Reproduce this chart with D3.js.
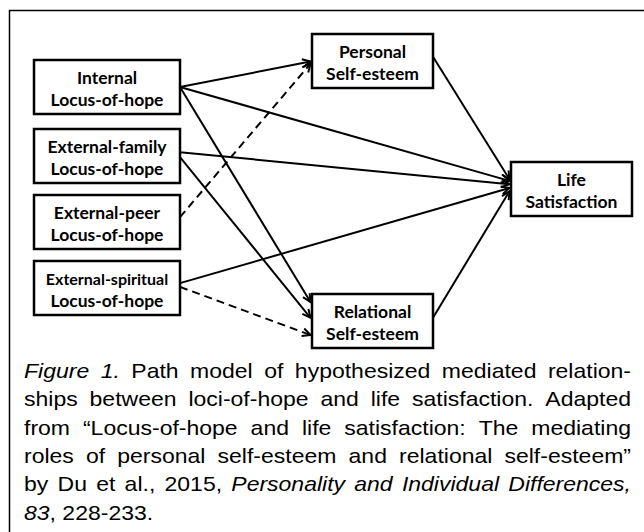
<!DOCTYPE html>
<html>
<head>
<meta charset="utf-8">
<script src="https://cdn.jsdelivr.net/npm/d3@7"></script>
<style>
  html, body { margin: 0; padding: 0; background: #fff; }
  svg { display: block; }
  .box { fill: #fff; stroke: #000; stroke-width: 2.5; }
  .lbl { font-family: Lato, "Open Sans", sans-serif; font-weight: 700; fill: #000; }
  .edge { fill: none; stroke: #000; stroke-width: 2; }
  .cap { font-family: "Liberation Sans", Arial, sans-serif; fill: #000; }
</style>
</head>
<body>
<svg id="chart" width="644" height="532"></svg>
<script>
// Path model: boxes, arrows and the caption below.
const nodeIds = ["internal", "family", "peer", "spiritual", "personal", "life", "relational"];
const nodeLabels = [
  ["Internal", "Locus-of-hope"],
  ["External-family", "Locus-of-hope"],
  ["External-peer", "Locus-of-hope"],
  ["External-spiritual", "Locus-of-hope"],
  ["Personal", "Self-esteem"],
  ["Life", "Satisfaction"],
  ["Relational", "Self-esteem"]
];
// arrows: source, target, dashed (non-hypothesised / weaker path)
const edgeSource = ["internal", "internal", "internal", "family", "family", "peer", "spiritual", "spiritual", "personal", "relational"];
const edgeTarget = ["personal", "life", "relational", "life", "relational", "personal", "life", "relational", "life", "life"];
const edgeDashed = [false, false, false, false, false, true, false, true, false, false];

const captionLines = [
  [["Figure 1.", true], ["Path model of hypothesized mediated relation-", false]],
  [["ships between loci-of-hope and life satisfaction. Adapted", false]],
  [["from \u201cLocus-of-hope and life satisfaction: The mediating", false]],
  [["roles of personal self-esteem and relational self-esteem\u201d", false]],
  [["by Du et al., 2015,", false], ["Personality and Individual Differences,", true]],
  [["83", true], [", 228-233.", false, true]]
];

// ---- layout (grid units -> px through scales) ----
const colX = d3.scaleOrdinal().domain(["left", "mid", "right"]).range([34, 312, 511]);
const colW = d3.scaleOrdinal().domain(["left", "mid", "right"]).range([146, 121, 121]);
const nodeCol = { internal: "left", family: "left", peer: "left", spiritual: "left", personal: "mid", life: "right", relational: "mid" };
const nodeTop = { internal: 60, family: 129, peer: 195, spiritual: 261, personal: 34, life: 162, relational: 294 };
const BOX_H = 54;
// where each arrow leaves / enters a box side, as a fraction of box height
const srcPort = [0.5, 0.5, 0.5, 0.43, 0.52, 0.41, 0.41, 0.48, 0.42, 0.44];
const tgtPort = [0.51, 0.35, 0.15, 0.41, 0.44, 0.55, 0.48, 0.76, 0.32, 0.54];

const svg = d3.select("#chart");

svg.append("rect")
  .attr("x", 9.5).attr("y", 10.5).attr("width", 700).attr("height", 600)
  .attr("fill", "none").attr("stroke", "#000").attr("stroke-width", 1.5);

const box = id => {
  const c = nodeCol[id];
  return { x0: colX(c), x1: colX(c) + colW(c), y0: nodeTop[id], y1: nodeTop[id] + BOX_H };
};

// arrows first so the boxes cover their ends
const g = svg.append("g");
edgeSource.forEach((s, i) => {
  const a = box(s), b = box(edgeTarget[i]);
  const x1 = a.x1, y1 = a.y0 + srcPort[i] * BOX_H;
  const x2 = b.x0 - 1.5, y2 = b.y0 + tgtPort[i] * BOX_H;
  g.append("path").attr("class", "edge")
    .attr("d", `M${x1},${y1}L${x2},${y2}`)
    .attr("stroke-dasharray", edgeDashed[i] ? "8,5" : null);
  const ang = Math.atan2(y2 - y1, x2 - x1), L = 9, spread = 0.45;
  const p1 = [x2 - L * Math.cos(ang - spread), y2 - L * Math.sin(ang - spread)];
  const p2 = [x2 - L * Math.cos(ang + spread), y2 - L * Math.sin(ang + spread)];
  g.append("path").attr("class", "edge")
    .attr("d", `M${p1}L${x2},${y2}L${p2}`);
});

nodeIds.forEach((id, i) => {
  const b = box(id);
  svg.append("rect").attr("class", "box")
    .attr("x", b.x0).attr("y", b.y0).attr("width", b.x1 - b.x0).attr("height", b.y1 - b.y0);
  const cx = (b.x0 + b.x1) / 2, cy = (b.y0 + b.y1) / 2;
  nodeLabels[i].forEach((t, k) => {
    svg.append("text").attr("class", "lbl")
      .attr("x", cx).attr("y", cy + (k === 0 ? -3 : 19))
      .attr("text-anchor", "middle")
      .attr("font-size", id === "spiritual" && k === 0 ? 16 : 17.5)
      .text(t);
  });
});

// ---- caption, justified by hand; the source is a bit stretched sideways ----
const CAP_X0 = 24, CAP_X1 = 631, CAP_Y0 = 378, CAP_DY = 28.3, CAP_FS = 20, CAP_SX = 1.15;
captionLines.forEach((parts, li) => {
  const words = [];
  parts.forEach(([txt, it, glue]) => {
    txt.split(" ").forEach((w, wi) => words.push({ w, it, glue: glue && wi === 0 }));
  });
  const t = svg.append("text").attr("class", "cap")
    .attr("transform", `translate(${CAP_X0},${CAP_Y0 + li * CAP_DY}) scale(${CAP_SX},1)`)
    .attr("font-size", CAP_FS);
  const spans = words.map(d => t.append("tspan")
    .attr("font-style", d.it ? "italic" : "normal").text(d.w));
  const widths = spans.map(s => s.node().getComputedTextLength());
  const space = CAP_FS * 0.278;
  const gaps = words.filter((d, k) => k > 0 && !d.glue).length;
  const natural = d3.sum(widths) + gaps * space;
  const avail = (CAP_X1 - CAP_X0) / CAP_SX;
  const last = li === captionLines.length - 1;
  const gap = last ? space : Math.max(space * 0.6, space + (avail - natural) / gaps);
  let x = 0;
  spans.forEach((s, k) => {
    if (k > 0 && !words[k].glue) x += gap;
    s.attr("x", x);
    x += widths[k];
  });
});
</script>
</body>
</html>
